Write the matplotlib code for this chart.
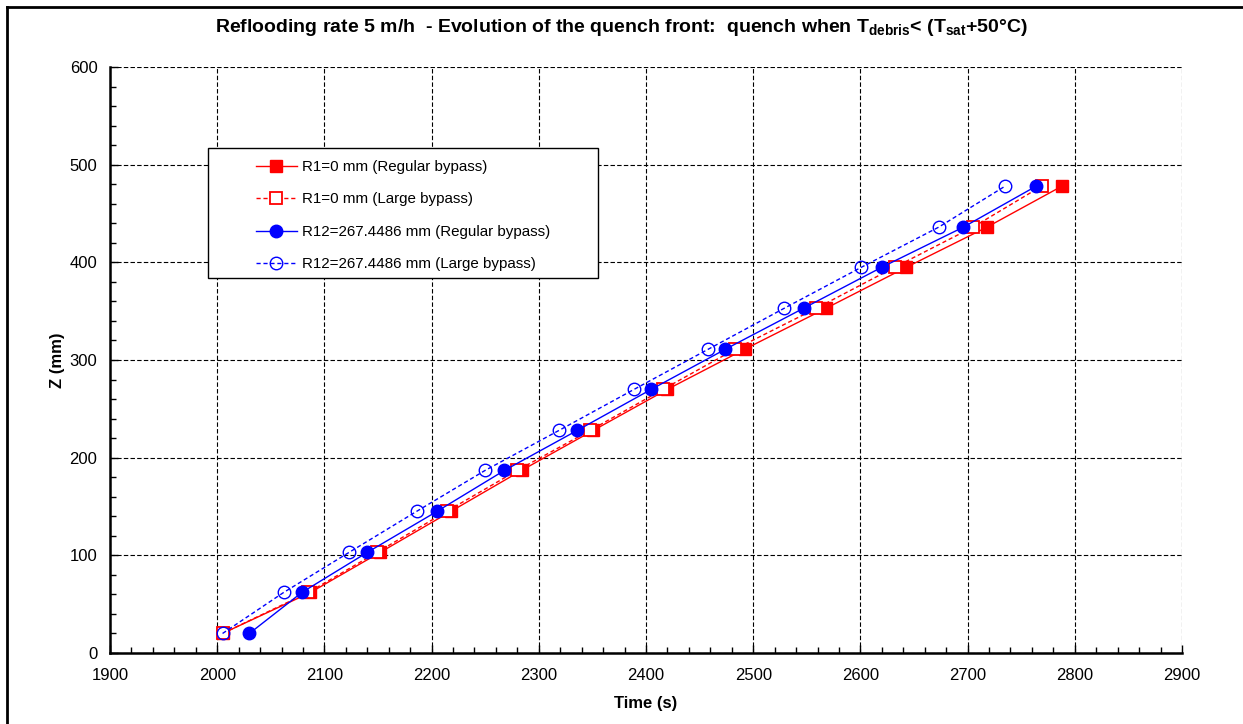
import matplotlib
matplotlib.use('Agg')
import matplotlib.pyplot as plt
from matplotlib.lines import Line2D
from matplotlib.patches import Rectangle
from matplotlib.ticker import MultipleLocator

plt.rcParams['font.family'] = ['Liberation Sans', 'DejaVu Sans']
plt.rcParams['mathtext.fontset'] = 'custom'
plt.rcParams['mathtext.rm'] = 'Liberation Sans:bold'
plt.rcParams['mathtext.it'] = 'Liberation Sans:bold'
plt.rcParams['mathtext.bf'] = 'Liberation Sans:bold'

# quench front elevation (mm)
z = [20, 62, 103, 145, 187, 228, 270, 311, 353, 395, 436, 478]

# time (s) for each case
t_r1_regular = [2005, 2087, 2152, 2218, 2284, 2351, 2420, 2492, 2568, 2643, 2718, 2788]
t_r1_large = [2005, 2085, 2149, 2214, 2280, 2348, 2416, 2483, 2559, 2632, 2705, 2769]
t_r12_regular = [2030, 2079, 2140, 2205, 2268, 2336, 2405, 2474, 2547, 2620, 2696, 2764]
t_r12_large = [2005, 2062, 2123, 2186, 2250, 2319, 2389, 2458, 2529, 2601, 2673, 2735]

labels = ['R1=0 mm (Regular bypass)', 'R1=0 mm (Large bypass)',
          'R12=267.4486 mm (Regular bypass)', 'R12=267.4486 mm (Large bypass)']

W, H = 1243, 724
fig = plt.figure(figsize=(W/100, H/100), dpi=100)
ax = fig.add_axes([110/W, 1 - 653/H, (1182-110)/W, (653-67)/H])

ax.plot(t_r1_regular, z, color='#ff0000', lw=1.0, marker='s', ms=9,
        mfc='#ff0000', mec='#ff0000', label=labels[0])
ax.plot(t_r1_large, z, color='#ff0000', lw=1.0, ls=(0, (3, 2)), marker='s', ms=9,
        mfc='white', mec='#ff0000', mew=1.3, label=labels[1])
ax.plot(t_r12_regular, z, color='#0000ff', lw=1.0, marker='o', ms=9,
        mfc='#0000ff', mec='#0000ff', label=labels[2])
ax.plot(t_r12_large, z, color='#0000ff', lw=1.0, ls=(0, (3, 2)), marker='o', ms=9,
        mfc='none', mec='#0000ff', mew=1.0, label=labels[3])

ax.set_xlim(1900, 2900)
ax.set_ylim(0, 600)
ax.xaxis.set_major_locator(MultipleLocator(100))
ax.xaxis.set_minor_locator(MultipleLocator(20))
ax.yaxis.set_major_locator(MultipleLocator(100))
ax.yaxis.set_minor_locator(MultipleLocator(20))
ax.tick_params(which='both', direction='in', labelsize=12, width=1)
ax.tick_params(which='major', length=6)
ax.tick_params(axis='x', which='major', pad=11)
ax.tick_params(axis='y', which='major', pad=9)
ax.tick_params(which='minor', length=4)
ax.grid(True, which='major', color='black', ls=(0, (4, 2)), lw=0.8)
for s in ['top', 'right']:
    ax.spines[s].set_visible(False)
for s in ['left', 'bottom']:
    ax.spines[s].set_linewidth(1.8)

ax.set_xlabel('Time (s)', fontweight='bold', fontsize=12, labelpad=9)
ax.set_ylabel('Z (mm)', fontweight='bold', fontsize=12, labelpad=3)

fig.text(0.5, 1 - 27/H,
         r'Reflooding rate 5 m/h  - Evolution of the quench front:  quench when T$_{\mathrm{debris}}$< (T$_{\mathrm{sat}}$+50°C)',
         ha='center', va='center', fontsize=14, fontweight='bold')

# legend box (drawn separately, wider than its contents)
ax.add_patch(Rectangle((208/W, 1 - 278/H), (598-208)/W, (278-148)/H,
                       transform=fig.transFigure, facecolor='white',
                       edgecolor='black', lw=1.0, zorder=5))
leg = ax.legend(loc='upper left', bbox_to_anchor=(256/W, 1 - 160/H),
                bbox_transform=fig.transFigure, frameon=False, fontsize=10.9,
                handlelength=2.7, labelspacing=1.22, borderpad=0,
                borderaxespad=0, handletextpad=0.35)
leg.set_zorder(6)

# figure border (left and top visible)
fig.add_artist(Line2D([7/W, 7/W], [0, 1 - 7/H], color='black', lw=2,
                      transform=fig.transFigure))
fig.add_artist(Line2D([7/W, 1], [1 - 7/H, 1 - 7/H], color='black', lw=2,
                      transform=fig.transFigure))

fig.savefig('out.png', dpi=100)
